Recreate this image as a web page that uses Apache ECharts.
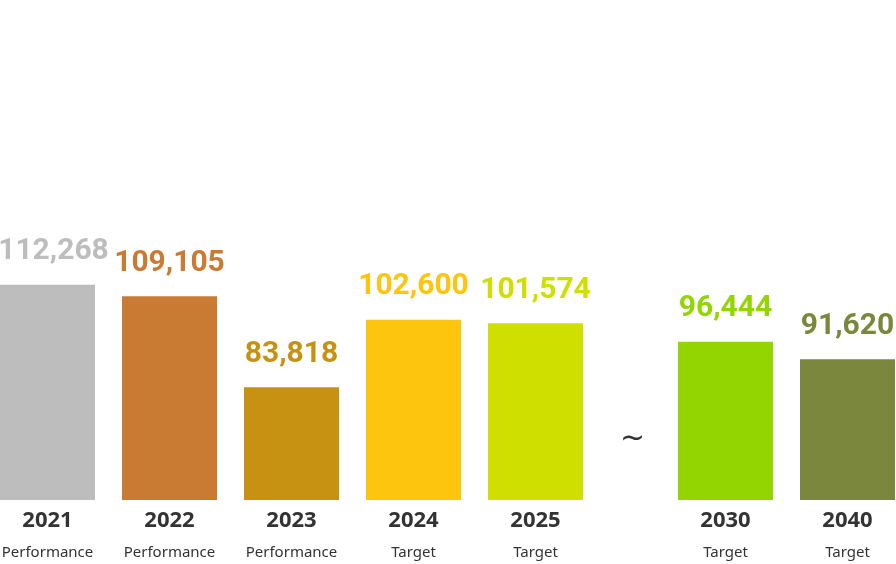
<!DOCTYPE html>
<html>
<head>
<meta charset="utf-8">
<script src="https://cdn.jsdelivr.net/npm/echarts@6/dist/echarts.min.js"></script>
<style>
  html, body { margin: 0; padding: 0; background: #fff; }
  #chart { width: 896px; height: 564px; }
</style>
</head>
<body>
<div id="chart"></div>
<script>
    // actual results 2021-2023, targets afterwards
    const yearsA = ['2021', '2022', '2023', '2024', '2025'];
    const kindsA = ['Performance', 'Performance', 'Performance', 'Target', 'Target'];
    const valuesA = [112268, 109105, 83818, 102600, 101574];
    const colorsA = ['#bdbdbd', '#c97b34', '#c79212', '#fec50f', '#cfdf00'];

    const yearsB = ['2030', '2040'];
    const kindsB = ['Target', 'Target'];
    const valuesB = [96444, 91620];
    const colorsB = ['#93d500', '#7a873d'];

    const Y_MIN = 52500;
    const Y_MAX = 160000;

    const chart = echarts.init(document.getElementById('chart'));

    function xAxisFor(years, kinds, gridIndex) {
        return {
            type: 'category',
            gridIndex: gridIndex,
            data: years,
            axisLine: { show: false },
            axisTick: { show: false },
            axisLabel: {
                margin: 7,
                interval: 0,
                formatter(value, idx) {
                    return '{y|' + value + '}\n{s|' + kinds[idx] + '}';
                },
                rich: {
                    y: { fontFamily: 'Noto Sans', fontWeight: 'bold', fontSize: 22, color: '#333', lineHeight: 28 },
                    s: { fontFamily: 'Noto Sans', fontSize: 15, color: '#333', lineHeight: 36 }
                }
            }
        };
    }

    function yAxisFor(gridIndex) {
        return { type: 'value', gridIndex: gridIndex, min: Y_MIN, max: Y_MAX, show: false };
    }

    function seriesFor(values, colors, idx) {
        return {
            type: 'bar',
            xAxisIndex: idx,
            yAxisIndex: idx,
            barWidth: 95,
            animation: false,
            data: values.map((v, i) => ({
                value: v,
                itemStyle: { color: colors[i] },
                label: {
                    color: colors[i],
                    offset: (idx === 0 && i === 0) ? [6, 0] : [0, 0]
                }
            })),
            label: {
                show: true,
                position: 'top',
                distance: 18,
                fontFamily: 'Roboto',
                fontWeight: 'bold',
                fontSize: 30,
                formatter: (p) => p.value.toLocaleString('en-US')
            }
        };
    }

    chart.setOption({
        backgroundColor: '#fff',
        grid: [
            { left: -13.5, width: 610, top: 113, bottom: 64, outerBoundsMode: 'none', containLabel: false },
            { left: 664.5, width: 244, top: 113, bottom: 64, outerBoundsMode: 'none', containLabel: false }
        ],
        xAxis: [xAxisFor(yearsA, kindsA, 0), xAxisFor(yearsB, kindsB, 1)],
        yAxis: [yAxisFor(0), yAxisFor(1)],
        series: [seriesFor(valuesA, colorsA, 0), seriesFor(valuesB, colorsB, 1)],
        graphic: [{
            type: 'text',
            left: 620,
            top: 424,
            style: { text: '~', fontFamily: 'DejaVu Sans', fontSize: 30, fill: '#333' }
        }]
    });
</script>
</body>
</html>
